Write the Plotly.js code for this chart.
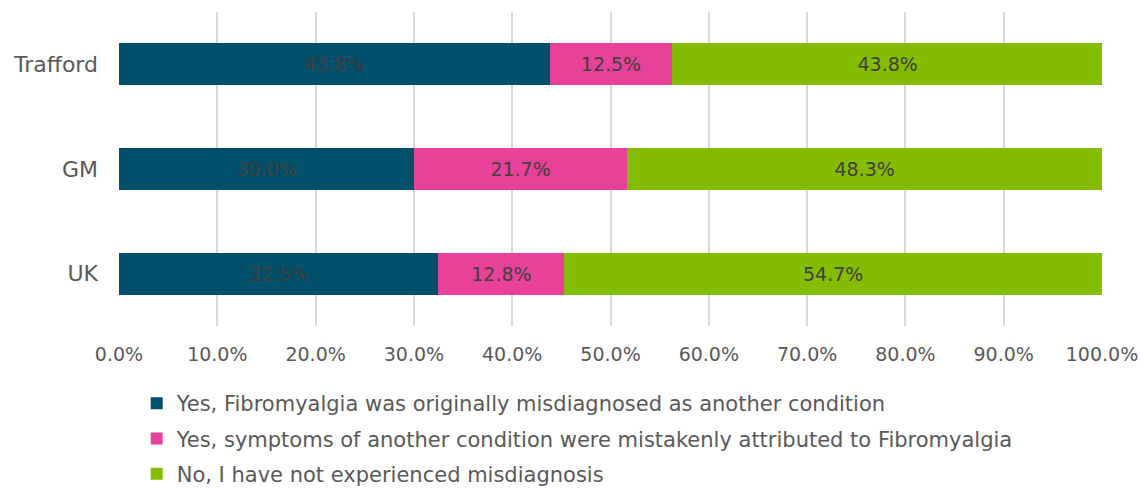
<!DOCTYPE html>
<html><head><meta charset="utf-8">
<script src="https://cdn.plot.ly/plotly-3.0.1.min.js"></script>
<style>body{margin:0;background:#fff}#c{width:1146px;height:488px}</style>
</head><body><div id="c"></div>
<script>
const categories = ['Trafford', 'GM', 'UK'];
const seriesNames = [
  'Yes, Fibromyalgia was originally misdiagnosed as another condition',
  'Yes, symptoms of another condition were mistakenly attributed to Fibromyalgia',
  'No, I have not experienced misdiagnosis'
];
const misdiagnosedAsOther = [43.8, 30.0, 32.5];
const attributedToFibro = [12.5, 21.7, 12.8];
const notExperienced = [43.8, 48.3, 54.7];
const colors = ['#004F6B', '#E8419A', '#84BD00'];
const tickVals = [0,10,20,30,40,50,60,70,80,90,100];
const tickText = ['0.0%','10.0%','20.0%','30.0%','40.0%','50.0%','60.0%','70.0%','80.0%','90.0%','100.0%'];

const FONT = 'DejaVu Sans, Verdana, sans-serif';
const series = [misdiagnosedAsOther, attributedToFibro, notExperienced];
const data = series.map((vals, i) => ({
  type: 'bar', orientation: 'h',
  y: categories, x: vals,
  name: seriesNames[i],
  legendgroup: 'g' + i,
  marker: {color: colors[i]},
  text: vals.map(v => v.toFixed(1) + '%'),
  textposition: 'inside', insidetextanchor: 'middle',
  textfont: {color: '#404040', size: 19, family: FONT},
  hoverinfo: 'skip', width: 0.4
}));

const layout = {
  width: 1146, height: 488,
  margin: {l: 119, r: 44, t: 12, b: 162},
  barmode: 'stack',
  paper_bgcolor: '#fff', plot_bgcolor: '#fff',
  font: {family: FONT, color: '#595959', size: 19},
  xaxis: {
    range: [0, 100], tickvals: tickVals, ticktext: tickText,
    showgrid: true, gridcolor: '#D9D9D9', gridwidth: 2,
    zeroline: false, showline: false, ticks: '',
    ticklabelstandoff: 15,
    tickfont: {size: 19, color: '#595959'}
  },
  yaxis: {
    categoryorder: 'array', categoryarray: ['UK', 'GM', 'Trafford'],
    showgrid: false, zeroline: false, showline: false, ticks: '',
    ticklabelstandoff: 20,
    tickfont: {size: 22, color: '#595959'}
  },
  showlegend: true,
  legend: {
    orientation: 'v', x: 0.018, xanchor: 'left',
    yref: 'container', y: 0.215, yanchor: 'top',
    traceorder: 'grouped', tracegroupgap: 5,
    font: {size: 21, color: '#595959', family: FONT},
    itemwidth: 30
  },
  bargap: 0.6
};
Plotly.newPlot('c', data, layout, {displayModeBar: false, staticPlot: true});
</script></body></html>
